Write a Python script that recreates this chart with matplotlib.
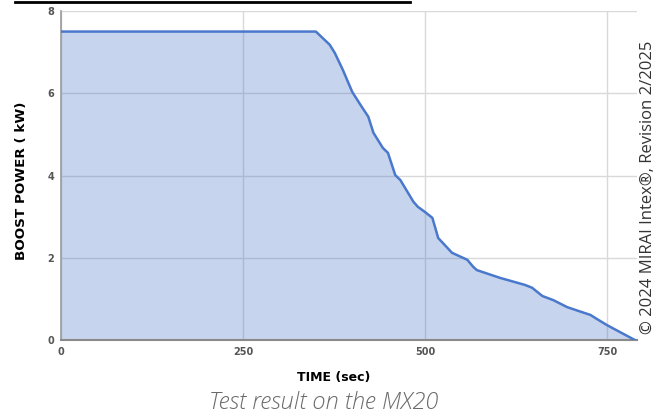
import matplotlib
matplotlib.use("Agg")
import matplotlib.pyplot as plt
from matplotlib.lines import Line2D

time_sec = [0, 350, 369, 376, 387, 400, 413, 422, 429, 442, 449, 459, 466, 484, 490,
            500, 510, 518, 537, 558, 566, 571, 603, 637, 647, 661, 676, 695, 710, 727,
            736, 750, 788]
power_kw = [7.5, 7.5, 7.18, 6.98, 6.57, 6.03, 5.67, 5.43, 5.04, 4.67, 4.55, 4.01, 3.89,
            3.36, 3.24, 3.11, 2.97, 2.48, 2.12, 1.95, 1.78, 1.70, 1.51, 1.34, 1.27, 1.07,
            0.97, 0.80, 0.71, 0.61, 0.51, 0.36, 0.0]
x_ticks = [0, 250, 500, 750]
y_ticks = [0, 2, 4, 6, 8]

fig = plt.figure(figsize=(6.56, 4.17), dpi=100)
ax = fig.add_axes([61/656, 1-340/417, (637-61)/656, (340-11)/417])

ax.fill_between(time_sec, power_kw, 0, color="#4472c4", alpha=0.30, linewidth=0, zorder=2)
ax.plot(time_sec, power_kw, color="#4a78cc", linewidth=1.8, zorder=3)

ax.set_xlim(0, 791)
ax.set_ylim(0, 8)
ax.set_xticks(x_ticks)
ax.set_yticks(y_ticks)
ax.grid(True, color="#d9d9d9", linewidth=1.0, zorder=1)
ax.set_axisbelow(True)
for s in ["top", "right"]:
    ax.spines[s].set_visible(False)
ax.spines["left"].set_color("#9a9a9a")
ax.spines["left"].set_linewidth(1.2)
ax.spines["bottom"].set_color("#8a8a8a")
ax.spines["bottom"].set_linewidth(1.5)
ax.tick_params(length=0, labelsize=7, labelcolor="#555555", pad=5)
for lab in ax.get_xticklabels() + ax.get_yticklabels():
    lab.set_fontweight("bold")

ax.set_xlabel("TIME (sec)", fontsize=9, fontweight="bold", color="black")
ax.xaxis.set_label_coords((334-61)/576, -(371-340)/329)
ax.set_ylabel("BOOST POWER ( kW)", fontsize=9.7, fontweight="bold", color="black")
ax.yaxis.set_label_coords(-(61-28)/576, (340-181)/329)

fig.text(324/656, 1-403/417, "Test result on the MX20", fontsize=17, fontstyle="italic",
         color="#6a6a6a", ha="center", va="center", family="Open Sans", fontweight="light")
fig.text(648/656, 1-187/417, "© 2024 MIRAI Intex®, Revision 2/2025", fontsize=12,
         rotation=90, ha="center", va="center", color="#333333", family="Open Sans")

fig.add_artist(Line2D([15/656, 410/656], [1-2/417, 1-2/417], color="black",
                      linewidth=2.0, transform=fig.transFigure))

fig.savefig("out.png", dpi=100)
